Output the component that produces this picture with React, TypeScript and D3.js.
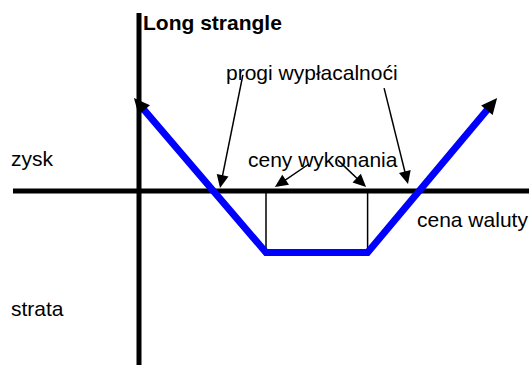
import React from "react";
import * as d3 from "d3";

// Payoff profile of a long strangle (price units, payoff units)
const prices = [-0.2, 5, 9, 14.1];
const payoffs = [3.1, -2.05, -2.05, 3.1];
const strikes = [5, 9];
const premium = -2.05;

// Annotation arrows (data coordinates): from label to target
const annFrom = [
  [4.09, 3.87],
  [9.65, 3.43],
  [6.69, 0.9],
  [7.83, 1.03],
];
const annTo = [
  [3.19, 0.1],
  [10.59, 0.23],
  [5.35, 0.13],
  [8.94, 0.13],
];

const title = "Long strangle";
const labelBreakeven = "progi wypłacalnoći";
const labelStrikes = "ceny wykonania";
const labelProfit = "zysk";
const labelLoss = "strata";
const labelPrice = "cena waluty";

const W = 529;
const H = 365;

function arrowHead(
  tip: [number, number],
  from: [number, number],
  len: number,
  wid: number
) {
  const dx = tip[0] - from[0];
  const dy = tip[1] - from[1];
  const d = Math.hypot(dx, dy);
  const ux = dx / d;
  const uy = dy / d;
  const bx = tip[0] - ux * len;
  const by = tip[1] - uy * len;
  const px = -uy * (wid / 2);
  const py = ux * (wid / 2);
  return `${tip[0]},${tip[1]} ${bx + px},${by + py} ${bx - px},${by - py}`;
}

function shorten(tip: [number, number], from: [number, number], amt: number): [number, number] {
  const dx = tip[0] - from[0];
  const dy = tip[1] - from[1];
  const d = Math.hypot(dx, dy);
  return [tip[0] - (dx / d) * amt, tip[1] - (dy / d) * amt];
}

export default function App() {
  const x = d3.scaleLinear().domain([0, 15]).range([139, 139 + 15 * 25.4]);
  const y = d3.scaleLinear().domain([-2, 3]).range([251, 101]);

  const pts: [number, number][] = prices.map((p, i) => [x(p), y(payoffs[i])]);
  const n = pts.length;
  const headLen = 16;
  const headWid = 15;
  const trimmed: [number, number][] = pts.map((p) => [p[0], p[1]]);
  trimmed[0] = shorten(pts[0], pts[1], headLen * 0.7);
  trimmed[n - 1] = shorten(pts[n - 1], pts[n - 2], headLen * 0.7);
  const line = d3.line<[number, number]>()(trimmed) || "";

  const font = "Arial, 'Liberation Sans', sans-serif";
  const fs = 21;

  return (
    <svg
      width={W}
      height={H}
      style={{ position: "fixed", left: 0, top: 0, background: "#fff" }}
    >
      <rect width={W} height={H} fill="#fff" />
      {/* axes */}
      <line x1={x(0)} x2={x(0)} y1={13} y2={H} stroke="#000" strokeWidth={5} />
      <line x1={13} x2={W} y1={y(0)} y2={y(0)} stroke="#000" strokeWidth={5} />

      {/* strike lines */}
      {strikes.map((k, i) => (
        <line
          key={i}
          x1={x(k)}
          x2={x(k)}
          y1={y(0)}
          y2={y(premium)}
          stroke="#000"
          strokeWidth={1.5}
        />
      ))}

      {/* payoff */}
      <path d={line} fill="none" stroke="#0000ff" strokeWidth={7} strokeLinejoin="miter" />
      <polygon points={arrowHead(pts[0], pts[1], headLen, headWid)} fill="#000" />
      <polygon points={arrowHead(pts[n - 1], pts[n - 2], headLen, headWid)} fill="#000" />

      {/* annotation arrows */}
      {annFrom.map((f, i) => {
        const a: [number, number] = [x(f[0]), y(f[1])];
        const b: [number, number] = [x(annTo[i][0]), y(annTo[i][1])];
        const e = shorten(b, a, 8);
        return (
          <g key={i}>
            <line x1={a[0]} y1={a[1]} x2={e[0]} y2={e[1]} stroke="#000" strokeWidth={1.5} />
            <polygon points={arrowHead(b, a, 13, 12)} fill="#000" />
          </g>
        );
      })}

      {/* labels */}
      <text x={143} y={30} fontFamily={font} fontSize={fs} fontWeight="bold">
        {title}
      </text>
      <text x={226} y={80} fontFamily={font} fontSize={fs}>
        {labelBreakeven}
      </text>
      <text x={248} y={167} fontFamily={font} fontSize={fs}>
        {labelStrikes}
      </text>
      <text x={11} y={166} fontFamily={font} fontSize={fs}>
        {labelProfit}
      </text>
      <text x={11} y={316} fontFamily={font} fontSize={fs}>
        {labelLoss}
      </text>
      <text x={417} y={227} fontFamily={font} fontSize={fs}>
        {labelPrice}
      </text>
    </svg>
  );
}
